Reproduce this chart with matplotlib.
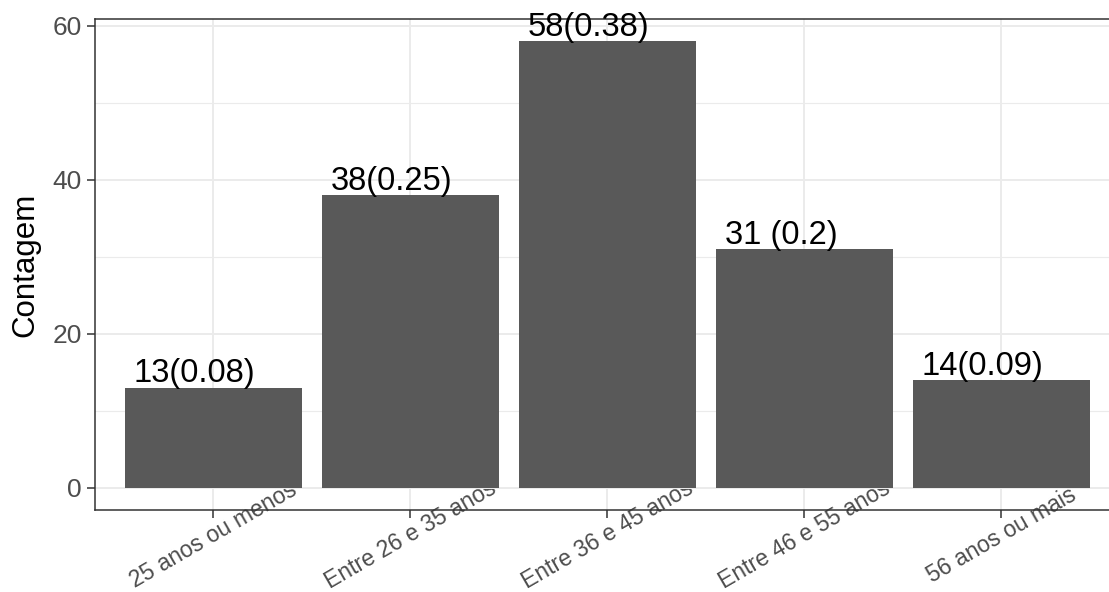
import matplotlib
matplotlib.use("Agg")
import matplotlib.pyplot as plt
import matplotlib.transforms as mtransforms
import numpy as np

plt.rcParams['font.family'] = ['Liberation Sans', 'DejaVu Sans']

# age groups and their counts / shares
faixas = ["25 anos ou menos", "Entre 26 e 35 anos", "Entre 36 e 45 anos",
          "Entre 46 e 55 anos", "56 anos ou mais"]
contagem = [13, 38, 58, 31, 14]
rotulos = ["13(0.08)", "38(0.25)", "58(0.38)", "31 (0.2)", "14(0.09)"]

yticks_major = [0, 20, 40, 60]
yticks_minor = [10, 30, 50]

fig = plt.figure(figsize=(11.09, 5.92), dpi=100)
ax = fig.add_axes([0.0859, 0.1385, 0.9237, 0.8294])

pos = np.arange(1, len(faixas) + 1)
ax.bar(pos, contagem, width=0.9, color="#595959", zorder=3)

for x, v, txt in zip(pos, contagem, rotulos):
    ax.text(x - 0.45 + 0.045, v + 0.7, txt, ha="left", va="baseline",
            fontsize=23.5, color="black", zorder=4)

ax.set_xlim(0.4, 5.6)
ax.set_ylim(-2.9, 60.9)

ax.set_yticks(yticks_major)
ax.set_yticks(yticks_minor, minor=True)
ax.set_xticks(pos)
ax.set_xticklabels(faixas, rotation=30, ha="center", va="center",
                   rotation_mode="anchor")

# nudge the rotated category labels a little to the right
shift = mtransforms.ScaledTranslation(6 / 100, 0, fig.dpi_scale_trans)
for lab in ax.get_xticklabels():
    lab.set_transform(lab.get_transform() + shift)

ax.grid(True, which="major", color="#EBEBEB", linewidth=1.4, zorder=0)
ax.grid(True, which="minor", axis="y", color="#EBEBEB", linewidth=0.8, zorder=0)
ax.set_axisbelow(True)

ax.tick_params(axis="both", which="major", color="#333333", length=5.5,
               width=1.1, labelcolor="#4D4D4D")
ax.tick_params(axis="y", which="major", labelsize=19, pad=4)
ax.tick_params(axis="x", which="major", labelsize=16.5, pad=12.5)
ax.tick_params(which="minor", length=0)

for s in ax.spines.values():
    s.set_color("#333333")
    s.set_linewidth(1.1)
ax.spines["right"].set_visible(False)

ax.set_ylabel("Contagem", fontsize=22.5, color="black", va="center")
ax.yaxis.set_label_coords(-0.0686, 0.5)

fig.savefig("out.png", dpi=100)
